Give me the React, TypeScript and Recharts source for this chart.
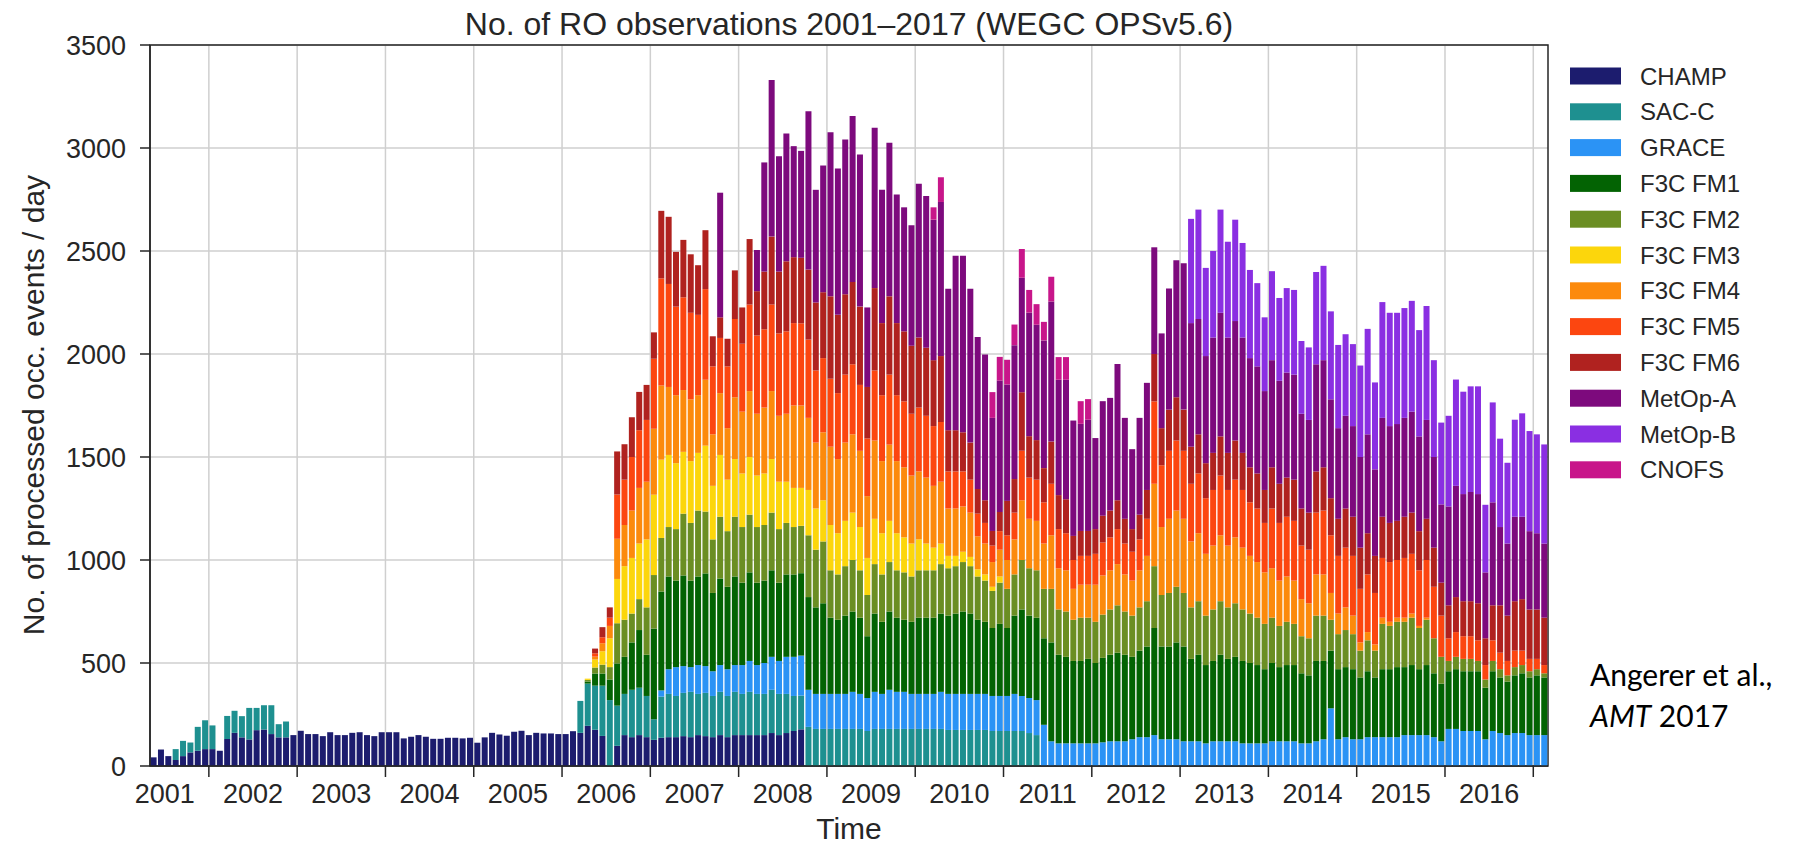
import React from 'react';
import { BarChart, Bar, XAxis, YAxis, CartesianGrid, ReferenceArea } from 'recharts';

const FONT = "'Liberation Sans', Arial, Helvetica, sans-serif";
const INK = '#262626';

// monthly categories, May 2001 .. Feb 2017
const FIRST_YEAR = 2001;
const FIRST_MONTH = 5;
const MONTH_COUNT = 190;
const months: string[] = Array.from({ length: MONTH_COUNT }, (_, i) => {
  const t = FIRST_MONTH - 1 + i;
  const y = FIRST_YEAR + Math.floor(t / 12);
  const m = (t % 12) + 1;
  return `${y}-${m < 10 ? '0' : ''}${m}`;
});

const yTicks = [0, 500, 1000, 1500, 2000, 2500, 3000, 3500];

// each series: month it starts in + monthly values (occ. events / day)
const champ = { start: '2001-05', values: [
  42, 80, 48, 29, 48, 66, 74, 82,
  82, 74, 131, 161, 139, 129, 174, 177, 155, 139, 139, 150,
  171, 155, 155, 145, 164, 150, 150, 161, 164, 150, 145, 164,
  164, 164, 134, 142, 150, 142, 132, 132, 137, 137, 134, 137,
  113, 139, 161, 153, 147, 166, 171, 150, 161, 158, 158, 155,
  155, 169, 161, 195, 176, 146, 0, 98, 150, 140, 150, 140,
  127, 137, 140, 140, 145, 140, 150, 145, 140, 150, 140, 150,
  150, 150, 150, 150, 160, 150, 160, 170, 178,
] };

const sacc2001 = { start: '2001-08', values: [
  53, 74, 48, 116, 140,
  115, 0, 112, 107, 103, 153, 108, 118, 140, 64, 77,
] };

const sacc2006 = { start: '2006-03', values: [
  155, 205, 214, 244, 320, 195, 200, 230, 230, 200,
  100, 200, 210, 200, 210, 220, 200, 210, 200, 210, 200, 210,
  200, 210, 200, 200, 210, 200, 190, 170, 164, 190, 180, 180,
  180, 180, 180, 180, 180, 170, 180, 180, 180, 180, 180, 180,
  180, 180, 180, 180, 175, 175, 175, 175, 175, 175, 170, 170,
  170, 170, 170, 160, 150,
] };

const grace = { start: '2007-02', values: [
  30, 120, 140, 130, 120, 140, 130, 120, 130, 130, 130,
  140, 150, 140, 150, 160, 160, 180, 190, 194, 180, 170, 170,
  170, 170, 170, 180, 170, 160, 180, 170, 190, 180, 180, 170,
  170, 170, 170, 180, 175, 175, 175, 175, 175, 175, 170, 170,
  170, 180, 170, 170, 170, 200, 120, 110, 110, 110, 110, 110,
  110, 115, 120, 120, 120, 130, 140, 140, 150, 130, 130, 130,
  120, 120, 120, 110, 120, 120, 120, 120, 110, 110, 110, 110,
  120, 120, 120, 120, 110, 110, 120, 130, 280, 130, 140, 130,
  130, 140, 140, 140, 140, 140, 150, 150, 150, 150, 140, 120,
  180, 180, 170, 170, 170, 130, 170, 160, 150, 160, 160, 150,
  150, 150,
] };

const fm1 = { start: '2006-04', values: [
  10, 59, 59, 100, 205, 180, 230, 280, 200,
  440, 480, 450, 420, 440, 420, 430, 450, 380, 420, 400, 430,
  400, 430, 400, 400, 420, 380, 400, 400, 400, 450, 420, 440,
  370, 360, 380, 390, 370, 300, 380, 350, 380, 360, 350, 350,
  370, 370, 370, 380, 380, 390, 400, 390, 360, 350, 330, 350,
  330, 380, 420, 400, 400, 420, 480, 430, 420, 400, 400, 410,
  390, 410, 420, 430, 420, 400, 420, 440, 520, 450, 450, 470,
  460, 400, 420, 380, 390, 420, 400, 410, 400, 390, 380, 360,
  380, 360, 370, 370, 340, 330, 390, 380, 280, 340, 340, 340,
  300, 320, 290, 330, 330, 340, 330, 340, 320, 340, 310, 280,
  280, 290, 290, 290, 290, 250, 290, 270, 260, 280, 290, 280,
  290, 280,
] };

const fm2 = { start: '2006-04', values: [
  8, 29, 43, 60, 195, 180, 140, 150, 230,
  260, 260, 240, 250, 300, 280, 320, 300, 260, 300, 270, 290,
  270, 280, 270, 270, 280, 260, 250, 230, 230, 300, 280, 300,
  230, 220, 240, 250, 230, 200, 240, 230, 240, 230, 230, 220,
  230, 230, 230, 240, 230, 230, 240, 230, 210, 200, 180, 200,
  190, 200, 240, 230, 230, 240, 260, 220, 220, 200, 210, 200,
  200, 210, 220, 230, 210, 200, 210, 220, 300, 250, 260, 270,
  260, 250, 260, 240, 250, 260, 250, 260, 250, 240, 230, 220,
  220, 200, 210, 200, 180, 180, 220, 220, 150, 170, 180, 170,
  130, 150, 130, 220, 210, 220, 220, 230, 200, 220, 170, 130,
  50, 60, 60, 60, 50, 40, 50, 40, 30, 40, 40, 30,
  30, 20,
] };

const fm3 = { start: '2006-04', values: [
  6, 39, 65, 140, 215, 260, 270, 270, 330,
  390, 380, 350, 320, 300, 300, 280, 320, 260, 300, 250, 280,
  260, 280, 250, 250, 260, 230, 200, 190, 184, 220, 200, 200,
  220, 200, 220, 230, 210, 180, 220, 200, 200, 180, 170, 160,
  150, 130, 110, 100, 60, 50, 50, 45, 35, 30, 20, 30,
] };

const fm4 = { start: '2006-05', values: [
  14, 39, 60, 195, 200, 230, 270, 280,
  320, 360, 330, 330, 300, 300, 280, 320, 250, 300, 250, 300,
  300, 320, 300, 320, 330, 320, 330, 400, 400, 350, 320, 330,
  380, 360, 380, 380, 370, 300, 380, 350, 370, 350, 340, 330,
  330, 320, 300, 300, 230, 230, 220, 215, 160, 150, 120, 130,
  140, 170, 290, 240, 240, 220, 260, 200, 200, 150, 160, 160,
  180, 190, 190, 200, 180, 170, 180, 220, 400, 330, 360, 370,
  360, 320, 330, 300, 310, 320, 300, 320, 300, 280, 270, 250,
  240, 220, 220, 210, 180, 170, 200, 200, 130, 100, 110, 90,
  40, 40, 30, 30, 20, 20, 20, 20, 10, 10,
] };

const fm5 = { start: '2006-05', values: [
  16, 29, 40, 215, 220, 260, 280, 300,
  340, 520, 500, 430, 450, 420, 390, 440, 330, 268, 300, 380,
  330, 420, 380, 380, 420, 400, 400, 400, 399, 380, 350, 360,
  330, 320, 330, 340, 320, 280, 340, 320, 340, 320, 320, 300,
  310, 300, 290, 290, 180, 180, 170, 160, 110, 100, 80, 90,
  120, 130, 240, 200, 200, 200, 250, 190, 180, 140, 140, 140,
  150, 160, 160, 170, 150, 140, 150, 180, 400, 300, 330, 340,
  330, 280, 290, 270, 270, 290, 270, 280, 280, 260, 260, 240,
  290, 280, 290, 290, 260, 260, 300, 310, 280, 280, 290, 290,
  260, 280, 250, 290, 290, 280, 290, 290, 270, 280, 250, 200,
  110, 120, 110, 110, 100, 70, 100, 80, 70, 80, 70, 60,
  50, 40,
] };

const fm6 = { start: '2006-05', values: [
  23, 49, 50, 209, 172, 193, 186, 170,
  128, 328, 326, 266, 279, 284, 241, 286, 146, 100, 134, 236,
  176, 318, 215, 280, 330, 300, 340, 320, 318, 340, 330, 320,
  400, 380, 390, 400, 380, 250, 400, 350, 380, 350, 340, 330,
  340, 330, 320, 320, 200, 200, 190, 180, 120, 110, 71, 93,
  167, 163, 284, 201, 192, 166, 205, 165, 165, 117, 121, 121,
  120, 130, 130, 140, 120, 110, 120, 140, 230, 180, 200, 210,
  200, 180, 190, 170, 180, 190, 180, 190, 180, 170, 170, 160,
  200, 190, 190, 200, 180, 180, 200, 210, 180, 180, 190, 190,
  200, 200, 180, 200, 190, 190, 200, 200, 190, 200, 190, 160,
  160, 170, 170, 170, 180, 130, 170, 230, 220, 240, 250, 240,
  240, 230,
] };

const metopA = { start: '2007-10', values: [
  605, 0, 0,
  0, 0, 200, 530, 760, 560, 620, 539, 519, 768, 547, 615,
  797, 710, 751, 805, 738, 386, 778, 647, 745, 624, 602, 585,
  746, 737, 682, 748, 687, 847, 857, 747, 737, 708, 549, 638,
  565, 650, 556, 600, 560, 620, 680, 560, 580, 560, 520, 540,
  442, 556, 547, 661, 490, 388, 470, 520, 518, 460, 588, 665,
  711, 600, 560, 520, 560, 600, 560, 580, 560, 530, 520, 480,
  520, 500, 510, 510, 460, 450, 520, 520, 480, 440, 450, 440,
  440, 480, 420, 480, 470, 470, 480, 490, 460, 480, 440, 380,
  480, 540, 520, 530, 530, 320, 500, 380, 350, 410, 400, 380,
  370, 360,
] };

const metopB = { start: '2013-02', values: [
  506, 531, 428, 420, 501, 465, 492, 459, 428, 404, 358,
  432, 402, 410, 411, 353, 352, 448, 458, 427, 404, 396, 398,
  444, 512, 422, 562, 550, 540, 533, 538, 516, 553, 470, 397,
  440, 516, 497, 513, 523, 328, 485, 429, 392, 471, 502, 486,
  480, 481,
] };

const cnofs = { start: '2010-03', values: [
  60, 120, 0, 0, 0, 0, 0, 0, 125, 115,
  120, 100, 140, 110, 100, 90, 120, 110, 110, 0, 110, 100,
] };

const series = [
  { key: 'CHAMP', color: '#1c1c6e', parts: [champ] },
  { key: 'SAC-C', color: '#1e9090', parts: [sacc2001, sacc2006] },
  { key: 'GRACE', color: '#2b93f5', parts: [grace] },
  { key: 'F3C FM1', color: '#036303', parts: [fm1] },
  { key: 'F3C FM2', color: '#6b8e23', parts: [fm2] },
  { key: 'F3C FM3', color: '#fcd60c', parts: [fm3] },
  { key: 'F3C FM4', color: '#fc8a0c', parts: [fm4] },
  { key: 'F3C FM5', color: '#fc4610', parts: [fm5] },
  { key: 'F3C FM6', color: '#b0221f', parts: [fm6] },
  { key: 'MetOp-A', color: '#7d0a7d', parts: [metopA] },
  { key: 'MetOp-B', color: '#8a2fe2', parts: [metopB] },
  { key: 'CNOFS', color: '#c8168a', parts: [cnofs] },
];

const data: Record<string, any>[] = months.map((m) => ({ month: m }));
series.forEach((s) => {
  s.parts.forEach((p) => {
    const i0 = months.indexOf(p.start);
    p.values.forEach((v, j) => {
      if (data[i0 + j]) data[i0 + j][s.key] = v;
    });
  });
});

const yearStarts = months.map((m, i) => (m.endsWith('-01') ? i : -1)).filter((i) => i >= 0);

const YearTick = (props: any) => {
  const { x, y, payload } = props;
  const v: string = payload.value;
  const left = x - (payload.offset ?? 0);
  if (v.endsWith('-01')) {
    return <line x1={left} x2={left} y1={y} y2={y + 11} stroke={INK} strokeWidth={1.5} />;
  }
  if (v.endsWith('-07')) {
    return (
      <text x={left} y={y + 37} textAnchor="middle" fontSize={27} fontFamily={FONT} fill={INK}>
        {v.slice(0, 4)}
      </text>
    );
  }
  return <g />;
};

const verticalLines = (props: any) => {
  const { xAxis, offset } = props;
  return yearStarts.map((i) => {
    const s = xAxis?.scale;
    if (typeof s === 'function') {
      const v = s(months[i]);
      if (typeof v === 'number' && isFinite(v)) return v;
    }
    return offset.left + (offset.width * i) / MONTH_COUNT;
  });
};

export default function App() {
  return (
    <div style={{ position: 'absolute', left: 0, top: 0, width: 1795, height: 847, background: '#fff' }}>
      <BarChart
        width={1795}
        height={847}
        data={data}
        margin={{ top: 45, right: 247, bottom: 31, left: 90 }}
        barCategoryGap={0.6}
      >
        <CartesianGrid stroke="#cfcfcf" strokeWidth={1.5} verticalCoordinatesGenerator={verticalLines} />
        <XAxis
          dataKey="month"
          interval={0}
          height={50}
          tickLine={false}
          tickSize={0}
          tickMargin={0}
          axisLine={{ stroke: INK, strokeWidth: 1.5 }}
          tick={<YearTick />}
        />
        <YAxis
          domain={[0, 3500]}
          ticks={yTicks}
          interval={0}
          width={60}
          tickSize={10}
          tickMargin={14}
          tickLine={{ stroke: INK, strokeWidth: 1.5 }}
          axisLine={{ stroke: INK, strokeWidth: 1.5 }}
          tick={{ fontSize: 27, fill: INK, fontFamily: FONT }}
        />
        {series.map((s) => (
          <Bar key={s.key} dataKey={s.key} stackId="ro" fill={s.color} isAnimationActive={false} />
        ))}
        <ReferenceArea y1={0} y2={3500} fill="none" fillOpacity={0} stroke={INK} strokeWidth={1.5} />
      </BarChart>

      <svg width={1795} height={847} style={{ position: 'absolute', left: 0, top: 0, pointerEvents: 'none' }}>
        <text x={849} y={35} textAnchor="middle" fontSize={32} fontFamily={FONT} fill={INK}>
          No. of RO observations 2001–2017 (WEGC OPSv5.6)
        </text>
        <text
          transform="translate(44 405) rotate(-90)"
          textAnchor="middle"
          fontSize={30}
          fontFamily={FONT}
          fill={INK}
        >
          No. of processed occ. events / day
        </text>
        <text x={849} y={839} textAnchor="middle" fontSize={30} fontFamily={FONT} fill={INK}>
          Time
        </text>
        {series.map((s, i) => {
          const cy = 76 + i * 35.8;
          return (
            <g key={s.key}>
              <rect x={1570} y={cy - 8.5} width={51} height={17} fill={s.color} />
              <text x={1640} y={cy + 8.5} fontSize={24} fontFamily={FONT} fill={INK}>
                {s.key}
              </text>
            </g>
          );
        })}
        <text x={1590} y={686} fontSize={30} fontFamily="Lato, 'Open Sans', sans-serif" fill="#000">
          Angerer et al.,
        </text>
        <text x={1590} y={727} fontSize={30} fontFamily="Lato, 'Open Sans', sans-serif" fill="#000">
          <tspan fontStyle="italic">AMT</tspan> 2017
        </text>
      </svg>
    </div>
  );
}
